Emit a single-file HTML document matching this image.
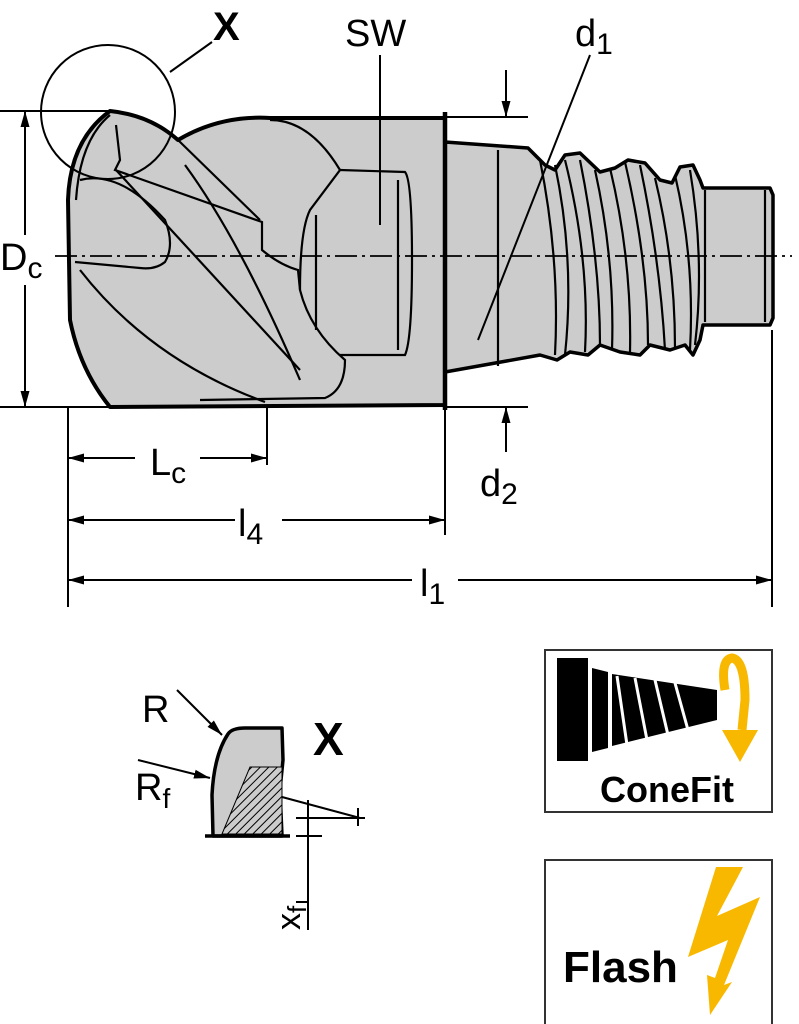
<!DOCTYPE html>
<html><head><meta charset="utf-8"><style>
html,body{margin:0;padding:0;background:#fff;}
svg{display:block;}
text{font-family:"Liberation Sans","DejaVu Sans",sans-serif;fill:#000;}
</style></head><body>
<svg width="799" height="1024" viewBox="0 0 799 1024" xmlns="http://www.w3.org/2000/svg">
<defs>
<marker id="a" viewBox="0 0 16 10" refX="16" refY="5" markerWidth="16" markerHeight="10" orient="auto-start-reverse" markerUnits="userSpaceOnUse"><path d="M0,0.5 L16,5 L0,9.5 z" fill="#000"/></marker>
<pattern id="h" width="6" height="6" patternUnits="userSpaceOnUse" patternTransform="rotate(45)"><rect width="6" height="6" fill="#ccc"/><line x1="0" y1="0" x2="0" y2="6" stroke="#000" stroke-width="2"/></pattern>
</defs>
<!-- shank -->
<path d="M445,142 L528,148 L545,165 L555,170 L565,155 L580,153 L600,172 L615,168 L628,160 L645,163 L660,180 L672,183 L680,167 L693,165 L700,180 L703,188 L770,188 L773,195 L773,318 L770,325 L703,325 L700,340 L693,355 L685,345 L670,350 L650,345 L640,355 L620,352 L600,345 L588,355 L570,352 L557,360 L540,355 L445,372 Z" fill="#ccc" stroke="#000" stroke-width="3.5" stroke-linejoin="round"/>
<g stroke="#000" stroke-width="2.2" fill="none">
<line x1="498" y1="150" x2="498" y2="366"/>
<path d="M540,160 Q560,260 555,355"/><path d="M555,165 Q575,260 565,355"/><path d="M565,160 Q590,260 585,352"/><path d="M580,160 Q600,260 600,345"/>
<path d="M595,170 Q615,260 612,350"/><path d="M610,168 Q632,260 630,352"/><path d="M625,162 Q648,260 648,345"/><path d="M640,165 Q660,260 665,350"/>
<path d="M655,178 Q675,260 675,348"/><path d="M675,175 Q695,260 690,350"/><path d="M690,170 Q705,260 695,345"/>
<line x1="705" y1="190" x2="705" y2="322"/><line x1="765" y1="190" x2="765" y2="322"/>
</g>
<!-- head -->
<path d="M445,118 L445,405 L110,407 Q80,370 70,320 L68,200 Q70,140 110,111 Q150,115 178,140 Q220,115 270,118 Z" fill="#ccc" stroke="#000" stroke-width="4" stroke-linejoin="round"/>
<line x1="445" y1="112" x2="445" y2="410" stroke="#000" stroke-width="4.5"/>
<g stroke="#000" stroke-width="2.2" fill="none">
<path d="M110,115 Q80,140 76,200"/>
<path d="M80,180 Q120,170 165,220 Q175,245 165,262 Q155,270 140,268 L75,262"/>
<path d="M116,125 L120,160 L115,170 L262,222 L262,250 Q280,265 298,270 L300,290 Q310,330 345,360 Q345,390 325,398 L200,400"/>
<path d="M178,140 L260,220"/>
<path d="M116,170 L300,370"/>
<path d="M80,270 Q150,360 265,402"/>
<path d="M185,165 Q240,240 300,380"/>
<path d="M270,120 Q310,120 340,170 L310,210 Q300,230 300,290"/>
<path d="M340,170 L405,172 Q412,180 412,260 Q412,340 405,355 L340,355"/>
<line x1="316" y1="215" x2="316" y2="330"/><line x1="398" y1="180" x2="398" y2="350"/>
</g>
<!-- center line -->
<line x1="55" y1="256" x2="792" y2="256" stroke="#000" stroke-width="1.8" stroke-dasharray="22,5,3,5"/>
<!-- dims -->
<g stroke="#000" stroke-width="2" fill="none">
<line x1="0" y1="111" x2="112" y2="111"/><line x1="0" y1="407" x2="112" y2="407"/>
<line x1="25" y1="111" x2="25" y2="235" marker-start="url(#a)"/><line x1="25" y1="285" x2="25" y2="407" marker-end="url(#a)"/>
<circle cx="108" cy="112" r="67"/>
<line x1="170" y1="72" x2="212" y2="42"/>
<line x1="380" y1="55" x2="380" y2="225"/>
<line x1="590" y1="55" x2="478" y2="340"/>
<line x1="447" y1="117" x2="528" y2="117"/><line x1="506" y1="70" x2="506" y2="117" marker-end="url(#a)"/>
<line x1="447" y1="407" x2="528" y2="407"/><line x1="506" y1="452" x2="506" y2="407" marker-end="url(#a)"/>
<line x1="68" y1="407" x2="68" y2="607"/><line x1="267" y1="407" x2="267" y2="465"/><line x1="445" y1="407" x2="445" y2="535"/><line x1="772" y1="330" x2="772" y2="607"/>
<line x1="68" y1="458" x2="135" y2="458" marker-start="url(#a)"/><line x1="200" y1="458" x2="267" y2="458" marker-end="url(#a)"/>
<line x1="68" y1="520" x2="235" y2="520" marker-start="url(#a)"/><line x1="282" y1="520" x2="445" y2="520" marker-end="url(#a)"/>
<line x1="68" y1="580" x2="412" y2="580" marker-start="url(#a)"/><line x1="458" y1="580" x2="772" y2="580" marker-end="url(#a)"/>
</g>
<g font-size="38">
<text x="0" y="270">D<tspan font-size="30" dy="8">c</tspan></text>
<text x="213" y="40" font-weight="bold" font-size="40">X</text>
<text x="345" y="46">SW</text>
<text x="575" y="46">d<tspan font-size="30" dy="8">1</tspan></text>
<text x="480" y="496">d<tspan font-size="30" dy="8">2</tspan></text>
<text x="150" y="475">L<tspan font-size="30" dy="8">c</tspan></text>
<text x="238" y="536">l<tspan font-size="30" dy="8">4</tspan></text>
<text x="420" y="596">l<tspan font-size="30" dy="8">1</tspan></text>
</g>
<!-- detail X -->
<path d="M213,836 L212,795 Q214,755 228,734 Q232,728 245,728 L282,728 L283,760 L280,790 L282,836 Z" fill="#ccc" stroke="#000" stroke-width="3.5" stroke-linejoin="round"/>
<path d="M222,834 L250,767 L282,767 L282,834 Z" fill="url(#h)" stroke="#000" stroke-width="1"/>
<g stroke="#000" stroke-width="2" fill="none">
<line x1="205" y1="836" x2="290" y2="836" stroke-width="3.5"/>
<line x1="296" y1="836" x2="322" y2="836"/>
<line x1="282" y1="797" x2="360" y2="818"/>
<line x1="296" y1="818" x2="365" y2="818"/>
<line x1="358" y1="808" x2="358" y2="826"/>
<line x1="308" y1="800" x2="308" y2="930"/>
<line x1="296" y1="902" x2="308" y2="902"/>
<line x1="177" y1="690" x2="222" y2="735" marker-end="url(#a)"/>
<line x1="138" y1="760" x2="210" y2="778" marker-end="url(#a)"/>
</g>
<text x="142" y="722" font-size="38">R</text>
<text x="135" y="800" font-size="38">R<tspan font-size="28" dy="8">f</tspan></text>
<text x="313" y="755" font-size="46" font-weight="bold">X</text>
<text transform="translate(300,930) rotate(-90)" font-size="34">x<tspan font-size="26" dy="6">f</tspan></text>
<!-- ConeFit -->
<rect x="545" y="650" width="227" height="162" fill="#fff" stroke="#333" stroke-width="2"/>
<rect x="557" y="658" width="31" height="103" fill="#000"/>
<path d="M592,668 L608,672 L608,748 L592,752 Z" fill="#000"/>
<path d="M612,674 L717,690 L717,720 L612,746 Z" fill="#000"/>
<g stroke="#fff" stroke-width="3"><line x1="617" y1="676" x2="627" y2="745"/><line x1="635" y1="678" x2="647" y2="740"/><line x1="655" y1="680" x2="668" y2="735"/><line x1="675" y1="683" x2="688" y2="730"/></g>
<path d="M725,690 Q720,660 732,658 Q745,660 745,700 L742,730" fill="none" stroke="#f8b800" stroke-width="9"/>
<path d="M722,730 L758,730 L740,762 Z" fill="#f8b800"/>
<text x="600" y="802" font-size="36" font-weight="bold">ConeFit</text>
<!-- Flash -->
<rect x="545" y="860" width="227" height="170" fill="#fff" stroke="#333" stroke-width="2"/>
<path d="M716,867 L743,867 L717,916 L760,897 L724,985 L732,982 L710,1015 L707,975 L715,978 L728,940 L688,957 Z" fill="#f8b800"/>
<text x="563" y="982" font-size="44" font-weight="bold">Flash</text>
</svg>
</body></html>
